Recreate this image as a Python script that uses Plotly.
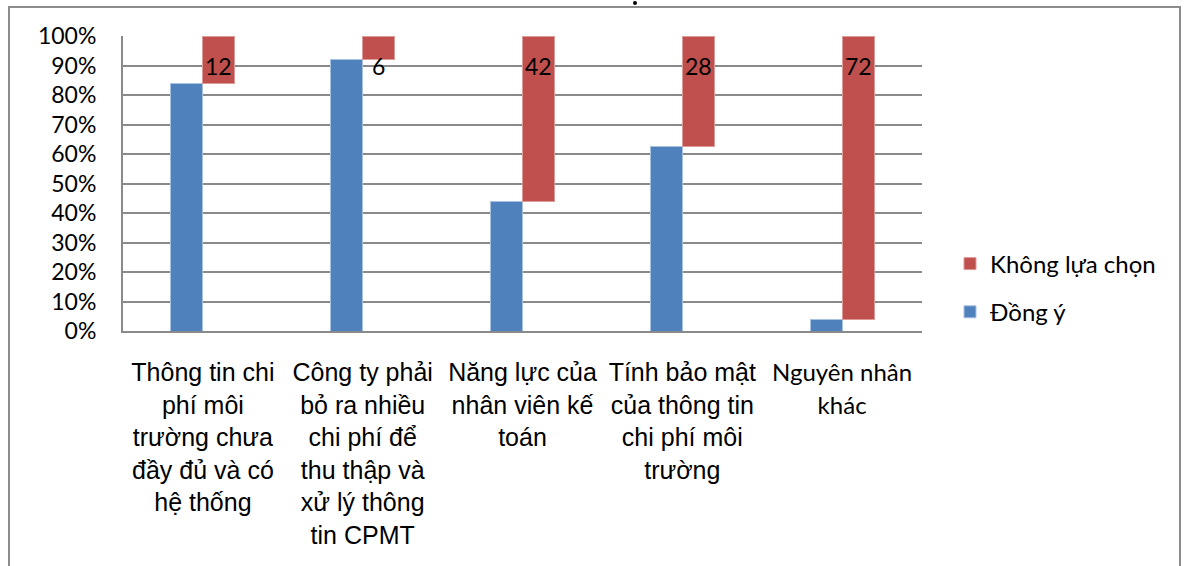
import plotly.graph_objects as go

# Survey responses per obstacle (counts out of 75 respondents)
categories = [
    "Thông tin chi<br>phí môi<br>trường chưa<br>đầy đủ và có<br>hệ thống",
    "Công ty phải<br>bỏ ra nhiều<br>chi phí để<br>thu thập và<br>xử lý thông<br>tin CPMT",
    "Năng lực của<br>nhân viên kế<br>toán",
    "Tính bảo mật<br>của thông tin<br>chi phí môi<br>trường",
    "<span style='font-family:Lato;font-size:24px'>Nguyên nhân<br>khác</span>",
]
dong_y = [63, 69, 33, 47, 3]
khong_lua_chon = [12, 6, 42, 28, 72]
y_ticks = [0, 10, 20, 30, 40, 50, 60, 70, 80, 90, 100]

BLUE = "#4F81BD"
RED = "#C0504D"
GRID = "#8a8a8a"
x_pos = list(range(len(categories)))

fig = go.Figure()
fig.add_trace(go.Bar(
    x=x_pos, y=dong_y, name="Đồng ý",
    offset=-0.2, width=0.2,
    marker=dict(color=BLUE, line=dict(color="#a9c1e0", width=1)),
    legendgroup="b", legendrank=2,
))
fig.add_trace(go.Bar(
    x=x_pos, y=khong_lua_chon, name="Không lựa chọn",
    offset=0.0, width=0.2,
    marker=dict(color=RED, line=dict(color="#dc9a98", width=1)),
    legendgroup="a", legendrank=1,
))

# value labels near the top of each red column
for i, v in enumerate(khong_lua_chon):
    fig.add_annotation(
        x=i + 0.1, y=90, xref="x", yref="y", text=str(v), showarrow=False,
        font=dict(family="Lato", size=23, color="black"),
        xanchor="center", yanchor="middle",
    )

L, R, T, B = 123, 922, 36, 331
W, H = 1189, 566
pw, ph = R - L, B - T


def px(x):
    return (x - L) / pw


def py(y):
    return (B - y) / ph


# outer chart frame
fig.add_shape(type="rect", xref="paper", yref="paper",
              x0=px(9), x1=px(1180), y0=py(7), y1=py(600),
              line=dict(color="#8c8c8c", width=2), fillcolor="rgba(0,0,0,0)",
              layer="below")
# small dot above the frame
fig.add_shape(type="circle", xref="paper", yref="paper",
              x0=px(633), x1=px(637), y0=py(5), y1=py(1),
              line=dict(width=0), fillcolor="black")

fig.update_layout(
    width=W, height=H,
    margin=dict(l=L, r=W - R, t=T, b=H - B, autoexpand=False),
    barmode="stack", barnorm="percent",
    paper_bgcolor="white", plot_bgcolor="white",
    showlegend=True,
    legend=dict(
        x=px(950), y=py(288), xanchor="left", yanchor="middle",
        traceorder="grouped", tracegroupgap=14,
        font=dict(family="Lato", size=24, color="black"),
        itemwidth=30,
    ),
    xaxis=dict(
        range=[-0.5, 4.5], tickvals=x_pos, ticktext=categories,
        tickangle=0, showgrid=False, zeroline=False,
        showline=True, linecolor=GRID, linewidth=2,
        tickfont=dict(family="Liberation Sans", size=25, color="black"),
        ticklabelstandoff=18,
    ),
    yaxis=dict(
        range=[0, 100], tickvals=y_ticks,
        ticktext=[f"{t}%" for t in y_ticks],
        showgrid=True, gridcolor=GRID, gridwidth=1.5,
        zeroline=False, showline=True, linecolor=GRID, linewidth=2,
        tickfont=dict(family="Lato", size=23, color="black"),
        ticklabelstandoff=20,
    ),
    font=dict(family="Lato"),
)

fig.write_html("out.html")
